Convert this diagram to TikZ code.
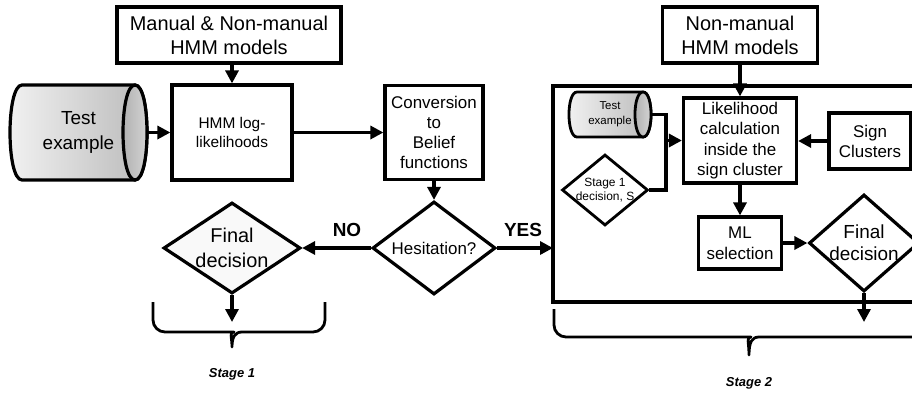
\documentclass[tikz,border=0pt]{standalone}
\usepackage{fontspec}
\setmainfont{Liberation Sans}
\usetikzlibrary{shapes.geometric,arrows.meta,positioning}
\newcommand{\bigtxt}{\fontsize{20}{24}\selectfont}
\newcommand{\midtxt}{\fontsize{17}{20.5}\selectfont}
\newcommand{\smalltxt}{\fontsize{12}{14}\selectfont}

\begin{document}
\begin{tikzpicture}[x=1bp,y=-1bp,
  box/.style={draw, line width=3.2bp, fill=white, align=center, inner sep=0pt},
  decide/.style={diamond, draw, line width=3.2bp, fill=white, inner sep=0pt},
  dtext/.style={align=center, inner sep=0pt},
  flow/.style={-{Triangle[length=13bp,width=13bp]}, line width=3.2bp},
  wire/.style={line width=3.2bp},
  brace/.style={line width=2.8bp, line join=round},
  stage/.style={font=\fontsize{13}{15}\selectfont\bfseries\itshape}]
\useasboundingbox (0,0) rectangle (912,392);

% stage 1
\draw[wire, left color=gray!10, right color=gray!55]
  (22,85) -- (135,85) .. controls (151,85) and (151,180) .. (135,180)
  -- (22,180) .. controls (6,180) and (6,85) .. (22,85) -- cycle;
\draw[wire, left color=gray!65, right color=gray!30]
  (135,85) .. controls (151,85) and (151,180) .. (135,180)
  .. controls (119,180) and (119,85) .. (135,85) -- cycle;
\node[dtext, minimum width=137bp, minimum height=95bp, font=\fontsize{19}{25}\selectfont] (test) at (78.5,132.5) {Test\\example};

\node[box, minimum width=224bp, minimum height=56bp, font=\bigtxt] (man) at (229,35) {Manual \& Non-manual\\HMM models};
\node[box, minimum width=120bp, minimum height=95bp, font=\fontsize{15.5}{19}\selectfont] (hmm) at (232,132.5) {HMM log-\\likelihoods};
\node[box, minimum width=98bp, minimum height=94bp, font=\fontsize{17}{20}\selectfont] (conv) at (434,132.5) {Conversion\\to\\Belief\\functions};
\node[decide, minimum width=123bp, minimum height=93bp,
  label={[dtext, font=\midtxt]center:Hesitation?}] (hes) at (434,248) {};
\node[decide, fill=gray!5, minimum width=137bp, minimum height=91bp,
  label={[dtext, font=\fontsize{20}{25}\selectfont]center:Final\\decision}] (fin1) at (232,248) {};
\coordinate (out1) at (232,322);

\node[font=\fontsize{19}{22}\selectfont\bfseries] (no) at (347,230) {NO};
\node[font=\fontsize{19}{22}\selectfont\bfseries] (yes) at (523,230) {YES};

\draw[flow] (test.east) -- (hmm.west);
\draw[flow] (man.south -| hmm.north) -- (hmm.north);
\draw[flow] (hmm.east) -- (conv.west);
\draw[flow] (conv.south) -- (hes.north);
\draw[flow] (hes.west) -- (fin1.east);
\draw[flow] (fin1.south) -- (out1);

\draw[brace] (153,302) [rounded corners=12bp] -- (153,332) -- (222,332) [sharp corners]
  .. controls (229,332) and (232,337) .. (232,347)
  .. controls (232,337) and (235,332) .. (242,332) [rounded corners=12bp]
  -- (325,332) -- (325,302);
\node[stage] (st1) at (232,374) {Stage 1};

% stage 2
\coordinate (s2nw) at (553,86);
\coordinate (s2sw) at (553,302);
\draw[wire] (916,86) -- (s2nw) -- (s2sw) -- (916,302);
\draw[flow] (hes.east) -- (hes.east -| s2nw);

\node[box, minimum width=155bp, minimum height=56bp, font=\bigtxt] (nonman) at (740,35) {Non-manual\\HMM models};
\node[box, minimum width=113bp, minimum height=85bp, font=\midtxt] (lik) at (740,140.5) {Likelihood\\calculation\\inside the\\sign cluster};
\node[box, minimum width=82bp, minimum height=56bp, font=\fontsize{17}{20}\selectfont] (sign) at (870,141) {Sign\\Clusters};
\node[box, minimum width=83bp, minimum height=52bp, font=\fontsize{17}{21}\selectfont] (ml) at (740,243) {ML\\selection};
\node[decide, minimum width=110bp, minimum height=97bp,
  label={[dtext, font=\fontsize{19}{22}\selectfont]center:Final\\decision}] (fin2) at (864,243) {};
\coordinate (out2) at (864,322);

\draw[line width=2.8bp, left color=gray!10, right color=gray!55]
  (577,92) -- (643,92) .. controls (653.7,92) and (653.7,137) .. (643,137)
  -- (577,137) .. controls (566.3,137) and (566.3,92) .. (577,92) -- cycle;
\draw[line width=2.8bp, left color=gray!65, right color=gray!30]
  (643,92) .. controls (653.7,92) and (653.7,137) .. (643,137)
  .. controls (632.3,137) and (632.3,92) .. (643,92) -- cycle;
\node[dtext, minimum width=82bp, minimum height=45bp, font=\fontsize{11.5}{15}\selectfont] (stest) at (610,114.5) {Test\\example};
\node[decide, line width=2.8bp, minimum width=86bp, minimum height=71bp,
  label={[dtext, font=\smalltxt]center:Stage 1\\decision, S}] (s1dec) at (605,190) {};
\coordinate (mix) at (666,140.5);

\draw[flow] (nonman.south) -- (lik.north);
\draw[wire] (stest.east) -| (mix) |- (s1dec.east);
\draw[flow] (mix) -- (lik.west);
\draw[flow] (sign.west) -- (sign.west -| lik.east);
\draw[flow] (lik.south) -- (ml.north);
\draw[flow] (ml.east) -- (fin2.west);
\draw[flow] (fin2.south) -- (out2);

\draw[brace] (554,309) [rounded corners=12bp] -- (554,337) -- (739,337) [sharp corners]
  .. controls (746,337) and (749,342) .. (749,355)
  .. controls (749,342) and (752,337) .. (759,337) [rounded corners=12bp]
  -- (944,337) -- (944,309);
\node[stage] (st2) at (749,383) {Stage 2};
\end{tikzpicture}
\end{document}
